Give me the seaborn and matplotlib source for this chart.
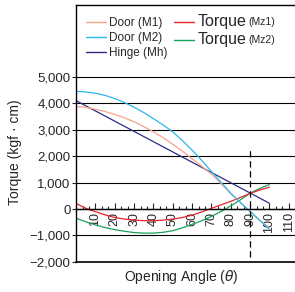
import matplotlib
matplotlib.use("Agg")
import matplotlib.pyplot as plt
import seaborn as sns
from matplotlib.ticker import FuncFormatter, AutoMinorLocator
from matplotlib.lines import Line2D

# values
angle = [0, 5, 10, 15, 20, 25, 30, 35, 40, 45, 50, 55, 60, 65, 70, 75, 80, 85, 90, 95, 100]
door_m1 = [3880, 3850, 3780, 3690, 3580, 3450, 3300, 3120, 2920, 2700, 2450,
           2190, 1900, 1620, 1320, 960, 580, 240, -100, -420, -720]
door_m2 = [4450, 4430, 4380, 4300, 4180, 4030, 3850, 3650, 3420, 3180, 2920,
           2590, 2230, 1840, 1420, 1010, 600, 250, -90, -430, -760]
torque_mz1 = [210, 30, -100, -220, -320, -380, -420, -440, -440, -420, -380,
              -320, -230, -110, 30, 160, 290, 440, 590, 720, 830]
torque_mz2 = [-350, -480, -600, -700, -780, -840, -890, -910, -910, -880, -820,
              -710, -580, -440, -280, -90, 120, 350, 600, 780, 930]
hinge_angle = [0, 50, 100]
hinge_mh = [4100, 2160, 220]

yticks = [-2000, -1000, 0, 1000, 2000, 3000, 4000, 5000]
xticks = [10, 20, 30, 40, 50, 60, 70, 80, 90, 100, 110]

sns.set_style("white")
plt.rcParams['font.family'] = ['Liberation Sans', 'DejaVu Sans']

fig = plt.figure(figsize=(2.95, 2.92), dpi=100)
ax = fig.add_axes([0.258, 0.103, 0.747, 0.880])

colors = {'m1': '#f7a48c', 'm2': '#2ab7ee', 'mh': '#2b2d86',
          'mz1': '#e8222c', 'mz2': '#1aa05a'}

sns.lineplot(x=hinge_angle, y=hinge_mh, ax=ax, color=colors['mh'], lw=0.9)
sns.lineplot(x=angle, y=torque_mz2, ax=ax, color=colors['mz2'], lw=0.9)
sns.lineplot(x=angle, y=torque_mz1, ax=ax, color=colors['mz1'], lw=0.9)
sns.lineplot(x=angle, y=door_m1, ax=ax, color=colors['m1'], lw=0.9)
sns.lineplot(x=angle, y=door_m2, ax=ax, color=colors['m2'], lw=0.9)

ax.vlines(90, -1800, 2350, colors='black', linestyles=(0, (5, 3)), lw=0.9)

ax.set_xlim(0, 114)
ax.set_ylim(-2000, 7720)

ax.set_yticks(yticks)
ax.yaxis.set_major_formatter(FuncFormatter(lambda v, p: f"{v:,.0f}".replace('-', '\u2212')))
ax.grid(axis='y', color='black', lw=0.8)
ax.tick_params(axis='y', direction='out', length=3, width=0.8, labelsize=9.5, pad=1, left=True)

ax.spines['bottom'].set_position(('data', 0))
ax.spines['right'].set_visible(False)
for s in ['bottom', 'top', 'left']:
    ax.spines[s].set_color('black')
    ax.spines[s].set_linewidth(1.0)
ax.axhline(-2000, color='black', lw=1.2, clip_on=False)

ax.set_xticks(xticks)
ax.xaxis.set_minor_locator(AutoMinorLocator(3))
ax.tick_params(axis='x', which='major', direction='in', length=4, width=0.8,
               labelsize=9, labelrotation=90, pad=2, bottom=True)
ax.tick_params(axis='x', which='minor', direction='in', length=2.5, width=0.8, bottom=True)

ax.text(0.478, -0.058, r'Opening Angle ($\theta$)', transform=ax.transAxes,
        ha='center', va='center', fontsize=10)
ax.text(-0.277, 0.428, 'Torque (kgf \u00b7 cm)', transform=ax.transAxes,
        ha='center', va='center', rotation=90, fontsize=10)

handles = [Line2D([], [], color=colors[k], lw=1) for k in ['m1', 'm2', 'mh', 'mz1', 'mz2']]
labels = ['Door (M1)', 'Door (M2)', 'Hinge (Mh)', 'Torque', 'Torque']
leg = ax.legend(handles, labels, ncol=2, loc='upper left', frameon=False,
                fontsize=8.5, handlelength=1.7, handletextpad=0.3,
                columnspacing=0.5, labelspacing=0.25,
                bbox_to_anchor=(0.0, 1.0), borderaxespad=0.4)
for t in leg.get_texts()[3:]:
    t.set_fontsize(11.5)

fig.canvas.draw()
inv = ax.transAxes.inverted()
for t, sub in zip(leg.get_texts()[3:], ['(Mz1)', '(Mz2)']):
    bb = t.get_window_extent()
    x0, y0 = inv.transform((bb.x1 + 2, bb.y0))
    ax.text(x0, y0 + 0.008, sub, transform=ax.transAxes, fontsize=7.5,
            ha='left', va='bottom')

fig.savefig('out.png', dpi=100)
